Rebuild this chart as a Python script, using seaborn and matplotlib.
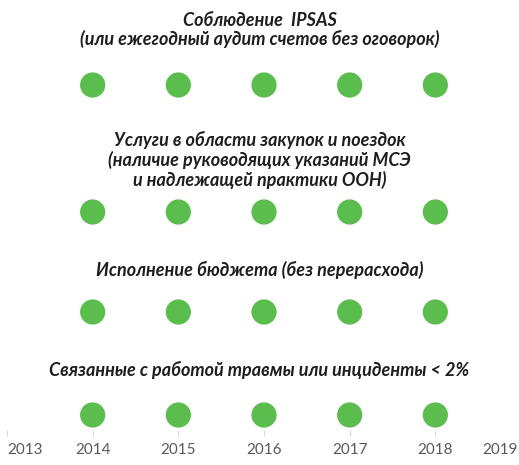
import numpy as np
import pandas as pd
import seaborn as sns
import matplotlib.pyplot as plt
import matplotlib.transforms as mtransforms

# data
years = [2014, 2015, 2016, 2017, 2018]
indicators = [
    "Соблюдение  IPSAS\n(или ежегодный аудит счетов без оговорок)",
    "Услуги в области закупок и поездок\n(наличие руководящих указаний МСЭ\nи надлежащей практики ООН)",
    "Исполнение бюджета (без перерасхода)",
    "Связанные с работой травмы или инциденты < 2%",
]
achieved = [
    [1, 1, 1, 1, 1],
    [1, 1, 1, 1, 1],
    [1, 1, 1, 1, 1],
    [1, 1, 1, 1, 1],
]
tick_years = [2013, 2014, 2015, 2016, 2017, 2018, 2019]

sns.set_theme(style="white")
plt.rcParams['font.family'] = ['Lato', 'DejaVu Sans']

W, H = 519, 465
fig = plt.figure(figsize=(W / 100, H / 100), dpi=100)

dot_color = "#5cbd4f"
text_color = "#1e1e1e"

# pixel layout: dot row centre y, title centre y
row_y = [85, 212, 312, 415]
title_y = [30, 160, 270, 370]

x0, x1 = 7, 521
xlim = (2013, 2019)

for i, name in enumerate(indicators):
    band = 30
    ax = fig.add_axes([x0 / W, 1 - (row_y[i] + band / 2) / H,
                       (x1 - x0) / W, band / H])
    df = pd.DataFrame({"year": years, "ok": achieved[i]})
    df = df[df["ok"] == 1]
    sns.scatterplot(data=df, x="year", y=[0] * len(df), ax=ax,
                    s=330, color=dot_color, edgecolor="none", legend=False)
    ax.set_xlim(*xlim)
    ax.set_ylim(-1, 1)
    ax.set_yticks([])
    ax.set_xlabel("")
    ax.set_ylabel("")
    sns.despine(ax=ax, left=True, bottom=True)
    if i < len(indicators) - 1:
        ax.set_xticks([])
    else:
        ax.set_xticks(tick_years)
        ax.set_xticklabels([str(y) for y in tick_years], fontsize=11,
                           color="#595959")
        ax.tick_params(axis="x", direction="out", length=4, width=0.8,
                       color="#d9d9d9", pad=5, bottom=True)
        labels = ax.get_xticklabels()
        labels[0].set_ha("left")
        labels[-1].set_ha("right")
        shift = mtransforms.ScaledTranslation(-3 / 100, 0, fig.dpi_scale_trans)
        labels[-1].set_transform(labels[-1].get_transform() + shift)

    fig.text(0.5, 1 - title_y[i] / H, name, ha="center", va="center",
             fontsize=13, fontweight="bold", fontstyle="italic",
             color=text_color, linespacing=1.1)

fig.savefig("out.png", dpi=100)
